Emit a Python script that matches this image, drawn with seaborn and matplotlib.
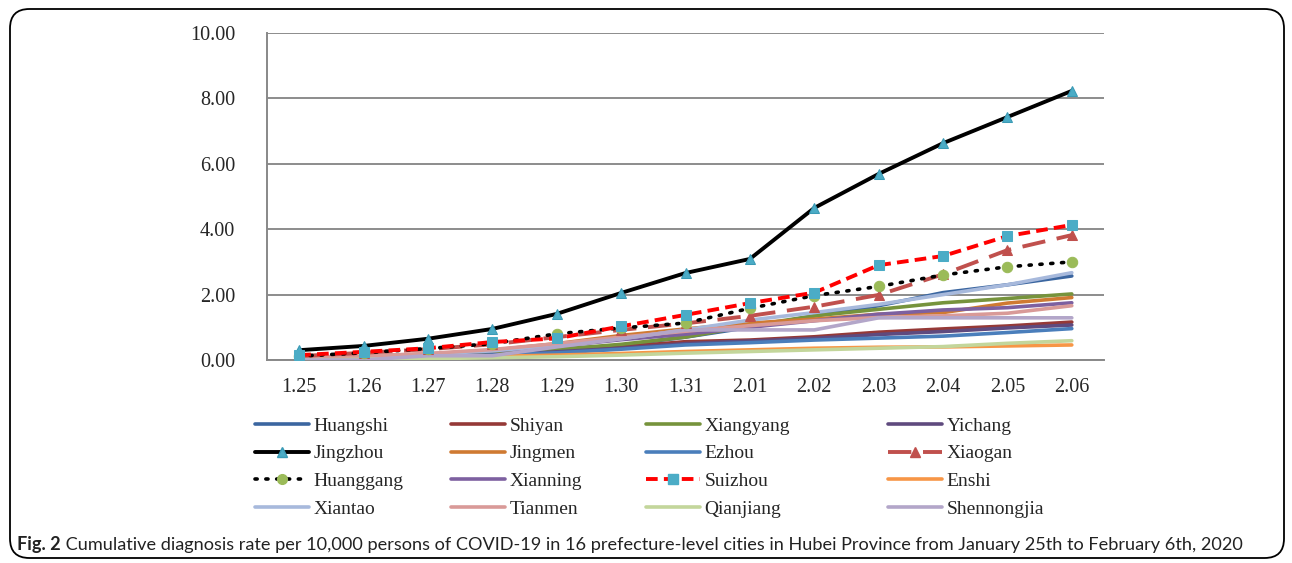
import numpy as np
import matplotlib
matplotlib.use("Agg")
import matplotlib.pyplot as plt
from matplotlib.patches import FancyBboxPatch
from matplotlib.lines import Line2D
import seaborn as sns

dates = ['1.25', '1.26', '1.27', '1.28', '1.29', '1.30', '1.31',
         '2.01', '2.02', '2.03', '2.04', '2.05', '2.06']
cities = ['Huangshi', 'Shiyan', 'Xiangyang', 'Yichang',
          'Jingzhou', 'Jingmen', 'Ezhou', 'Xiaogan',
          'Huanggang', 'Xianning', 'Suizhou', 'Enshi',
          'Xiantao', 'Tianmen', 'Qianjiang', 'Shennongjia']

huangshi = [0.05, 0.08, 0.14, 0.22, 0.32, 0.45, 0.70, 1.00, 1.35, 1.66, 2.06, 2.30, 2.57]
shiyan = [0.03, 0.06, 0.10, 0.17, 0.28, 0.40, 0.56, 0.61, 0.71, 0.85, 0.95, 1.04, 1.16]
xiangyang = [0.04, 0.07, 0.12, 0.20, 0.32, 0.48, 0.70, 1.05, 1.35, 1.55, 1.75, 1.88, 2.02]
yichang = [0.02, 0.05, 0.09, 0.15, 0.25, 0.36, 0.50, 0.58, 0.66, 0.78, 0.87, 0.98, 1.07]
jingzhou = [0.30, 0.43, 0.65, 0.95, 1.41, 2.05, 2.66, 3.09, 4.65, 5.69, 6.63, 7.43, 8.23]
jingmen = [0.06, 0.10, 0.18, 0.30, 0.50, 0.75, 0.95, 1.13, 1.25, 1.40, 1.45, 1.74, 1.91]
ezhou = [0.02, 0.05, 0.09, 0.15, 0.22, 0.33, 0.46, 0.53, 0.61, 0.67, 0.73, 0.84, 0.96]
xiaogan = [0.12, 0.22, 0.33, 0.48, 0.70, 0.92, 1.12, 1.35, 1.63, 1.99, 2.62, 3.36, 3.82]
huanggang = [0.12, 0.22, 0.35, 0.50, 0.80, 0.98, 1.13, 1.58, 1.97, 2.25, 2.60, 2.85, 3.00]
xianning = [0.05, 0.10, 0.18, 0.28, 0.42, 0.62, 0.79, 1.00, 1.20, 1.40, 1.53, 1.60, 1.75]
suizhou = [0.15, 0.25, 0.36, 0.55, 0.66, 1.03, 1.38, 1.74, 2.06, 2.90, 3.18, 3.79, 4.13]
enshi = [0.02, 0.04, 0.07, 0.11, 0.15, 0.20, 0.26, 0.31, 0.36, 0.39, 0.40, 0.43, 0.46]
xiantao = [0.05, 0.10, 0.18, 0.28, 0.45, 0.65, 0.92, 1.22, 1.45, 1.70, 2.00, 2.30, 2.67]
tianmen = [0.06, 0.12, 0.20, 0.32, 0.50, 0.70, 0.88, 1.05, 1.20, 1.30, 1.35, 1.43, 1.66]
qianjiang = [0.00, 0.02, 0.04, 0.07, 0.10, 0.15, 0.21, 0.26, 0.31, 0.36, 0.41, 0.51, 0.59]
shennongjia = [0.00, 0.00, 0.13, 0.13, 0.40, 0.65, 0.92, 0.92, 0.92, 1.29, 1.29, 1.29, 1.29]

values = [huangshi, shiyan, xiangyang, yichang, jingzhou, jingmen, ezhou, xiaogan,
          huanggang, xianning, suizhou, enshi, xiantao, tianmen, qianjiang, shennongjia]

colors = ['#3B66A0', '#953937', '#76933C', '#5F4A7E', '#000000', '#CF7A32', '#4A7EBB', '#C0504D',
          '#000000', '#7D60A0', '#FF0000', '#F79646', '#A7B9DC', '#D99A98', '#C3D69B', '#B3A6C9']

styles = {i: dict(linestyle='-', lw=2.6) for i in range(16)}
styles[4] = dict(linestyle='-', lw=2.8, marker='^', ms=7.5, mfc='#4BACC6', mec='#3A9AB5')
styles[7] = dict(linestyle=(0, (6, 3)), lw=2.8, marker='^', ms=7.5, mfc='#C0504D', mec='#C0504D')
styles[8] = dict(linestyle=(0, (0.6, 2.4)), lw=2.6, dash_capstyle='round', marker='o', ms=7.5,
                 mfc='#9BBB59', mec='#9BBB59')
styles[10] = dict(linestyle=(0, (3, 1.6)), lw=2.8, marker='s', ms=7, mfc='#4BACC6', mec='#4BACC6')

W, H = 1292, 563
fig = plt.figure(figsize=(W / 100, H / 100), dpi=100)
sns.set_style("white")
plt.rcParams['font.family'] = ['Liberation Serif', 'DejaVu Serif']

ax = fig.add_axes([267 / W, 1 - 360 / H, (1104 - 267) / W, (360 - 33) / H])
x = np.arange(len(dates))
for i in range(16):
    st = dict(styles[i])
    sns.lineplot(x=x, y=values[i], ax=ax, color=colors[i], label=cities[i], legend=False,
                 zorder=3 + (2 if i in (4, 7, 8, 10) else 0), **st)

ax.set_xlim(-0.5, len(dates) - 0.5)
ax.set_ylim(0, 10)
ax.set_yticks(np.arange(0, 10.01, 2))
ax.set_yticklabels([f"{v:.2f}" for v in np.arange(0, 10.01, 2)], fontsize=14.5)
ax.set_xticks(x)
ax.set_xticklabels(dates, fontsize=14.5)
ax.set_xticks(np.arange(-0.5, len(dates), 1), minor=True)
ax.tick_params(axis='x', which='major', length=0, pad=13)
ax.tick_params(axis='x', which='minor', length=7, color='#888888', width=1.3, direction='out')
ax.tick_params(axis='y', length=7, color='#888888', width=1.3, direction='out', pad=16)
ax.yaxis.grid(True, color='#8C8C8C', lw=1.4)
ax.set_axisbelow(True)
for s in ['top', 'right']:
    ax.spines[s].set_visible(False)
for s in ['left', 'bottom']:
    ax.spines[s].set_color('#888888')
    ax.spines[s].set_linewidth(1.4)
ax.set_xlabel('')
ax.set_ylabel('')

# Legend: 4 columns placed manually
col_x = [255, 451, 646, 888]
for c in range(4):
    handles = []
    labels = []
    for r in range(4):
        i = r * 4 + c
        st = dict(styles[i])
        st.pop('ms', None)
        handles.append(Line2D([], [], color=colors[i], markersize=7, **st))
        labels.append(cities[i])
    fig.legend(handles, labels, loc='upper left',
               bbox_to_anchor=(col_x[c] / W, 1 - 417 / H),
               frameon=False, fontsize=14, handlelength=2.8, handletextpad=0.2,
               labelspacing=0.52, borderaxespad=0, borderpad=0, numpoints=1)

# Caption
cap_font = ['Lato', 'DejaVu Sans']
t1 = fig.text(17 / W, 1 - 553 / H, "Fig. 2", fontsize=13.1, fontweight='bold',
              family=cap_font, color='#222222', va='bottom')
fig.canvas.draw()
ax.annotate(" Cumulative diagnosis rate per 10,000 persons of COVID-19 in 16 prefecture-level "
            "cities in Hubei Province from January 25th to February 6th, 2020",
            xy=(1, 0), xycoords=t1, va='bottom', ha='left', fontsize=13.1,
            family=cap_font, color='#222222', annotation_clip=False)

# Rounded border
box = FancyBboxPatch((10 / W, 1 - 558 / H), (1284 - 10) / W, (558 - 9) / H,
                     boxstyle="round,pad=0,rounding_size=0.015", transform=fig.transFigure,
                     fill=False, ec='black', lw=1.3, mutation_aspect=W / H)
fig.patches.append(box)

fig.savefig("out.png", dpi=100)
